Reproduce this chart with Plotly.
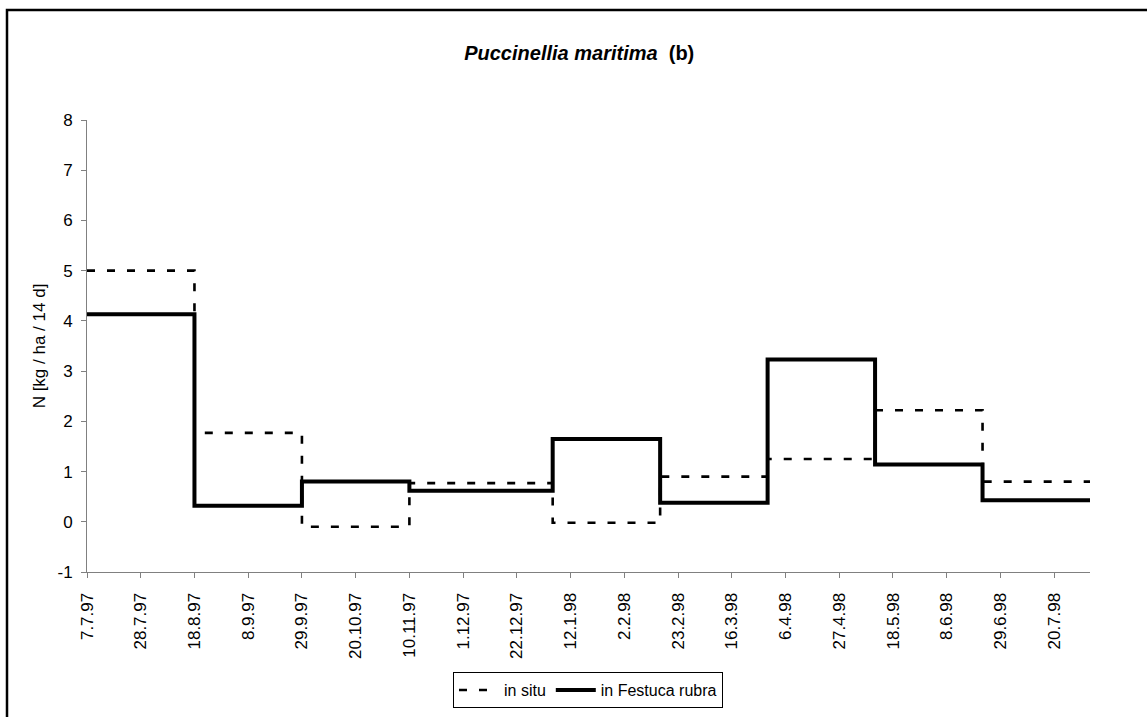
import plotly.graph_objects as go

period_starts = ["1997-07-07", "1997-08-18", "1997-09-29", "1997-11-10", "1998-01-05",
                 "1998-02-16", "1998-03-30", "1998-05-11", "1998-06-22", "1998-08-03"]
in_situ = [5.0, 1.77, -0.1, 0.77, -0.02, 0.9, 1.25, 2.22, 0.8]
in_festuca = [4.13, 0.32, 0.80, 0.62, 1.65, 0.38, 3.23, 1.14, 0.43]

tick_labels = ["7.7.97", "28.7.97", "18.8.97", "8.9.97", "29.9.97", "20.10.97", "10.11.97",
               "1.12.97", "22.12.97", "12.1.98", "2.2.98", "23.2.98", "16.3.98", "6.4.98",
               "27.4.98", "18.5.98", "8.6.98", "29.6.98", "20.7.98"]
tick_dates = ["1997-07-07", "1997-07-28", "1997-08-18", "1997-09-08", "1997-09-29", "1997-10-20",
              "1997-11-10", "1997-12-01", "1997-12-22", "1998-01-12", "1998-02-02", "1998-02-23",
              "1998-03-16", "1998-04-06", "1998-04-27", "1998-05-18", "1998-06-08", "1998-06-29",
              "1998-07-20"]
y_ticks = [-1, 0, 1, 2, 3, 4, 5, 6, 7, 8]
y_tick_labels = ["-1", "0", "1", "2", "3", "4", "5", "6", "7", "8"]

FONT = "Liberation Sans, Arial, sans-serif"

fig = go.Figure()
fig.add_trace(go.Scatter(
    x=period_starts, y=in_situ + [in_situ[-1]], mode="lines", name="in situ",
    line=dict(color="black", width=2.6, dash="8px,12px", shape="hv")))
fig.add_trace(go.Scatter(
    x=period_starts, y=in_festuca + [in_festuca[-1]], mode="lines", name="in Festuca rubra",
    line=dict(color="black", width=4, shape="hv")))

fig.update_layout(
    width=1147, height=717,
    paper_bgcolor="white", plot_bgcolor="white",
    margin=dict(l=87, r=57, t=120, b=145, autoexpand=False),
    font=dict(family=FONT, size=17, color="black"),
    title=dict(text="<b><i>Puccinellia maritima</i>  (b)</b>", x=0.505, xanchor="center",
               y=1 - 53 / 717, yanchor="middle", font=dict(size=20, family=FONT)),
    showlegend=True,
    legend=dict(orientation="h", x=0.4995, xanchor="center", y=-0.301, yanchor="bottom",
                bordercolor="black", borderwidth=1, bgcolor="white",
                font=dict(size=16, family=FONT), itemwidth=40, tracegroupgap=0),
    xaxis=dict(type="date", range=["1997-07-07", "1998-08-03"],
               tickmode="array", tickvals=tick_dates, ticktext=tick_labels,
               tickangle=-90, ticks="outside", ticklen=5, tickcolor="#808080",
               showline=True, linecolor="#808080", linewidth=1, showgrid=False,
               zeroline=False, tickfont=dict(size=17), ticklabelstandoff=8,
               automargin=False),
    yaxis=dict(range=[-1, 8], tickmode="array", tickvals=y_ticks, ticktext=y_tick_labels,
               ticks="outside", ticklen=5, tickcolor="#808080",
               showline=True, linecolor="#808080", linewidth=1, showgrid=False,
               zeroline=False, tickfont=dict(size=17), ticklabelstandoff=5,
               automargin=False,
               title=dict(text="N [kg / ha / 14 d]", font=dict(size=17), standoff=7)),
    shapes=[dict(type="rect", xref="paper", yref="paper",
                 x0=-80 / 1003, x1=1.2, y0=-0.5, y1=1 + 110 / 452,
                 line=dict(color="black", width=2.5), fillcolor="rgba(0,0,0,0)", layer="below")],
)

fig.write_html("out.html", config={"displayModeBar": False},
               post_script="document.body.style.margin='0';")
